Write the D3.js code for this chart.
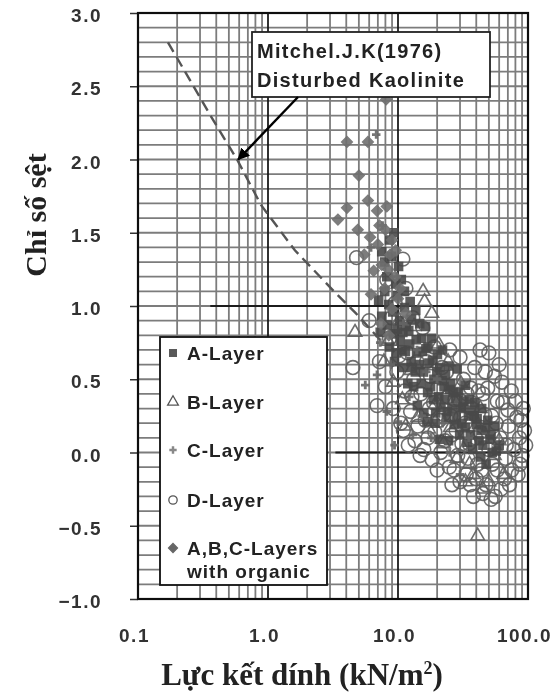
<!DOCTYPE html>
<html>
<head>
<meta charset="utf-8">
<script src="https://d3js.org/d3.v7.min.js"></script>
<style>
  body { margin: 0; background: #fff; }
  .tick text { font-family: "Liberation Sans", Arial, sans-serif; }
</style>
</head>
<body>
<div class="chart"></div>
<script>
// Data: [cohesion kN/m2, consistency index]
var xTicks = [0.1, 1, 10, 100];
var yTicks = [-1.0, -0.5, 0.0, 0.5, 1.0, 1.5, 2.0, 2.5, 3.0];

var mitchellCurve = [[0.17, 2.8], [0.378, 2.27], [0.578, 2.0], [0.883, 1.69], [1.61, 1.38],
  [3.22, 1.10], [4.75, 0.95], [7.27, 0.77]];

var layerA = [[7.1,1.04],[7.5,0.93],[7.9,1.1],[8.3,0.87],[8.5,1.01],[9.1,0.96],[9.2,0.81],[9.9,1.07],
  [10.3,0.9],[10.4,0.76],[11.2,0.99],[11.4,0.69],[12.1,0.83],[12.6,0.62],[12.7,0.91],[13.6,0.55],
  [13.8,0.77],[14.7,0.88],[15.1,0.47],[15.4,0.69],[16.4,0.71],[16.9,0.41],[17.3,0.61],[18.4,0.63],
  [18.7,0.36],[19.9,0.55],[20.1,0.67],[21.4,0.31],[21.8,0.49],[23.2,0.53],[23.5,0.24],[24.9,0.43],
  [25.4,0.47],[27.1,0.19],[27.5,0.37],[29.2,0.41],[29.8,0.12],[31.6,0.31],[32.1,0.35],[34.2,0.07],
  [34.8,0.25],[37.1,0.29],[37.6,0.02],[40.1,0.19],[40.6,0.23],[43.3,-0.03],[43.9,0.15],[47.1,0.17],
  [47.6,-0.08],[51,0.09],[52,0.12],[57,0.01],[8.2,1.2],[8.9,1.34],[9.6,1.15],[7.5,1.37],[10.1,1.27],
  [9.7,0.68],[11,0.58],[11.9,0.47],[13.2,0.45],[14.1,0.32],[15.8,0.27],[16.7,0.21],[19.3,0.2],
  [20.8,0.09],[24.5,0.08],[12.4,1.03],[13.7,0.97],[16.3,0.86],[18.1,0.78],[22,0.7],[24.6,0.59],
  [28.5,0.57],[10.7,0.7],[12.3,0.74],[14.6,0.6],[17.8,0.45],[20.6,0.38],[26,0.3],[31,0.2],[36,0.12],
  [9.4,0.62],[11.6,0.86],[15.2,0.78],[19.5,0.27],[23,0.36],[33,0.46],[39,0.34],[45,0.05],
  [7.3,0.82],[8.6,0.72],[9.9,0.84],[10.9,0.82],[12.9,0.58],[13.9,0.68],[15.7,0.55],[17,0.72],
  [18.9,0.5],[21,0.58],[22.6,0.45],[24,0.28],[26.5,0.41],[28,0.24],[30.5,0.3],[33,0.17],[35.5,0.36],
  [38.5,0.25],[42,0.08],[44,0.3],[49,0.22],[53,0.0],[60,0.05],[55,0.18],[8.6,1.45],[9.3,1.5],
  [7.9,1.3],[10.6,1.18],[11.2,1.1]];

var layerB = [[4.67,0.82],[15.6,1.1],[16,1.03],[41,-0.57],[45,-0.25],[38,-0.15],[50,-0.2],[7.8,0.62],
  [9.2,0.48],[10.8,0.36],[12.6,0.56],[14.2,0.24],[17.2,0.16],[19.4,0.33],[22.4,0.06],[25.3,0.17],
  [28.4,-0.04],[32,0.02],[35.5,-0.08],[55,-0.02],[20.5,0.74],[24.3,0.62],[30.5,0.47],[10.2,0.9],
  [8.4,0.76],[13.3,0.86],[18.2,0.95],[27,0.36],[60,0.08],[11.5,0.18],[43,0.3],[65,-0.15],[33,-0.2]];

var layerC = [[6.9,0.53],[10,0.21],[6.8,2.17],[7.3,0.75],[8.8,0.6],[9.4,0.05],[11,0.88],[12.2,0.38],
  [14,0.7],[15.2,0.25],[18,0.1],[22,0.2],[25,0.0],[30,-0.15],[5.6,0.46],[13,0.12],[20,0.5],[8.2,0.28],
  [16.5,0.55],[35,0.1],[9.8,1.2],[7.6,1.55],[6.2,1.4]];

var layerD = [[4.8,1.33],[10.9,1.32],[4.5,0.58],[6.9,0.32],[42.8,0.7],[70,0.29],[13.5,0.08],[86.7,-0.08],
  [6.0,0.9],[7.2,0.62],[8.0,0.45],[8.6,0.78],[9.2,0.3],[9.8,0.55],[10.5,0.2],[11.2,0.42],[11.8,0.68],
  [12.5,0.28],[13.2,0.5],[14.2,0.18],[15.0,0.4],[15.8,0.02],[16.6,0.62],[17.4,0.3],[18.3,-0.05],
  [19.2,0.14],[20.2,0.44],[21.3,0.0],[22.4,0.26],[23.6,0.55],[24.8,-0.1],[26.0,0.12],[27.4,0.36],
  [28.8,-0.02],[30.3,0.24],[31.9,0.5],[33.5,-0.15],[35.2,0.06],[37.0,0.3],[38.9,0.58],[40.9,-0.08],
  [43.0,0.14],[45.2,0.4],[47.5,-0.22],[50,0.02],[52.5,0.25],[55.2,0.52],[58,-0.12],[61,0.1],[64,0.34],
  [67.3,-0.04],[70.8,0.18],[74.4,0.42],[78,0.02],[82,0.24],[86,0.1],[90,-0.02],[94,0.15],[60,0.6],
  [50,0.68],[47,0.55],[56,-0.3],[45,-0.28],[40,-0.18],[36,-0.22],[66,-0.18],[75,-0.12],[80,0.35],
  [9.5,1.02],[11.5,1.12],[8.2,1.18],[13,0.92],[15.5,0.85],[19,0.72],[25,0.7],[30,0.65],[20,-0.12],
  [17,0.1],[12,0.05],[28,0.15],[34,0.4],
  [8.9,0.92],[10.2,0.66],[11,0.15],[12.8,0.38],[14,0.62],[14.8,-0.02],[16.2,0.22],[17.8,0.52],
  [18.8,0.34],[20.8,0.22],[21.8,0.58],[23,0.08],[24.2,0.38],[25.5,0.25],[27,-0.12],[29.5,0.36],
  [31,0.06],[32.8,0.2],[34.5,-0.04],[36.2,0.44],[39.5,0.1],[41.5,0.42],[44,-0.12],[46.5,0.26],
  [49,0.44],[53,-0.08],[57,0.2],[62,-0.25],[68,0.05],[72,-0.22],[84,-0.15],[92,0.3],[88,0.22],
  [96,0.05],[63,0.48],[38,-0.3],[52,-0.32],[30,-0.2],[26,-0.22],[58,0.35]];

var layerOrganic = [[8.1,2.41],[4.05,2.12],[5.87,2.12],[5.0,1.89],[4.05,1.67],[3.45,1.59],[5.87,1.72],
  [6.9,1.65],[8.2,1.68],[4.9,1.52],[6.1,1.47],[7.0,1.42],[8.7,1.35],[7.5,1.28],[6.5,1.24],[9.5,1.2],
  [5.5,1.35],[10.4,1.12],[7.9,1.12],[6.2,1.08],[9,0.98],[7.4,0.88],[11.5,0.95],[8.5,0.8],
  [8.0,1.52],[9.0,1.45],[9.6,1.38],[7.2,1.55],[8.4,1.25],[10,1.05]];

var legendLabels = ["A-Layer", "B-Layer", "C-Layer", "D-Layer", "A,B,C-Layers"];
var noteLines = ["Mitchel.J.K(1976)", "Disturbed Kaolinite"];

var svgWidth = 555;
var svgHeight = 693;

var margin = { top: 13, right: 27, bottom: 94, left: 138 };
var width = svgWidth - margin.left - margin.right;
var height = svgHeight - margin.top - margin.bottom;

var svg = d3.select(".chart")
  .append("svg")
  .attr("width", svgWidth)
  .attr("height", svgHeight)
  .style("display", "block");

var defs = svg.append("defs");
defs.append("filter").attr("id", "soft")
  .append("feGaussianBlur").attr("stdDeviation", 0.55);

defs.append("marker")
  .attr("id", "arrow")
  .attr("viewBox", "0 0 10 10")
  .attr("refX", 9).attr("refY", 5)
  .attr("markerWidth", 5).attr("markerHeight", 5)
  .attr("orient", "auto")
  .append("path").attr("d", "M0,0L10,5L0,10Z").attr("fill", "#000");

// everything goes in one slightly softened layer (the scan is blurry)
var root = svg.append("g").attr("filter", "url(#soft)");
root.append("rect").attr("width", svgWidth).attr("height", svgHeight).attr("fill", "#fff");

var chartGroup = root.append("g")
  .attr("transform", `translate(${margin.left}, ${margin.top})`);

// Scales
var xScale = d3.scaleLog().domain([0.1, 100]).range([0, width]);
var yScale = d3.scaleLinear().domain([-1, 3]).range([height, 0]);

// Grid lines
var gridColor = "#7c7c7c";
var minorX = [];
[0.1, 1, 10].forEach(d => { for (var k = 2; k <= 9; k++) minorX.push(d * k); });

chartGroup.selectAll(".gx")
  .data(minorX)
  .enter()
  .append("line")
  .attr("x1", d => xScale(d)).attr("x2", d => xScale(d))
  .attr("y1", 0).attr("y2", height)
  .attr("stroke", gridColor)
  .attr("stroke-width", 1.8);

chartGroup.selectAll(".gy")
  .data(d3.range(-9, 30).map(i => i / 10))
  .enter()
  .append("line")
  .attr("x1", 0).attr("x2", width)
  .attr("y1", d => yScale(d)).attr("y2", d => yScale(d))
  .attr("stroke", gridColor)
  .attr("stroke-width", 1.8);

// Heavy reference lines
chartGroup.selectAll(".decade")
  .data([1, 10])
  .enter()
  .append("line")
  .attr("x1", d => xScale(d)).attr("x2", d => xScale(d))
  .attr("y1", 0).attr("y2", height)
  .attr("stroke", "#1a1a1a")
  .attr("stroke-width", 1.8);

chartGroup.append("line")
  .attr("x1", xScale(0.36)).attr("x2", xScale(87))
  .attr("y1", yScale(1)).attr("y2", yScale(1))
  .attr("stroke", "#1a1a1a").attr("stroke-width", 2);

chartGroup.append("line")
  .attr("x1", xScale(3.3)).attr("x2", xScale(87))
  .attr("y1", yScale(0)).attr("y2", yScale(0))
  .attr("stroke", "#1a1a1a").attr("stroke-width", 2);

// Points
function drawPoints(data, type, size, fill, stroke, rot) {
  chartGroup.append("g")
    .selectAll("path")
    .data(data)
    .enter()
    .append("path")
    .attr("transform", d => `translate(${xScale(d[0])}, ${yScale(d[1])}) rotate(${rot || 0})`)
    .attr("d", d3.symbol().type(type).size(size))
    .attr("fill", fill)
    .attr("stroke", stroke)
    .attr("stroke-width", 1.6)
    .attr("opacity", 0.9);
}

drawPoints(layerD, d3.symbolCircle, 150, "none", "#5e5e5e");
drawPoints(layerB, d3.symbolTriangle, 80, "none", "#5e5e5e");
drawPoints(layerA, d3.symbolSquare, 64, "#4a4a4a", "#4a4a4a");
drawPoints(layerC, d3.symbolCross, 40, "#666", "none");
drawPoints(layerOrganic, d3.symbolSquare, 55, "#6f6f6f", "#6f6f6f", 45);

// Mitchell curve
chartGroup.append("path")
  .datum(mitchellCurve)
  .attr("d", d3.line().x(d => xScale(d[0])).y(d => yScale(d[1])))
  .attr("fill", "none")
  .attr("stroke", "#555")
  .attr("stroke-width", 2.4)
  .attr("stroke-dasharray", "11,6");

// Legend
var legend = root.append("g").attr("transform", "translate(160, 337)");
legend.append("rect")
  .attr("width", 167).attr("height", 248)
  .attr("fill", "#fff").attr("stroke", "#111").attr("stroke-width", 1.8);

var legendSymbols = [
  { type: d3.symbolSquare, size: 45, fill: "#5a5a5a", stroke: "#5a5a5a", rot: 0 },
  { type: d3.symbolTriangle, size: 50, fill: "none", stroke: "#555", rot: 0 },
  { type: d3.symbolCross, size: 30, fill: "#888", stroke: "none", rot: 0 },
  { type: d3.symbolCircle, size: 55, fill: "none", stroke: "#555", rot: 0 },
  { type: d3.symbolSquare, size: 40, fill: "#666", stroke: "#666", rot: 45 }
];
var legendY = [16, 65, 113, 163, 211];
var legendFont = "Liberation Sans, Arial, sans-serif";

legendLabels.forEach((lab, i) => {
  legend.append("path")
    .attr("transform", `translate(13, ${legendY[i]}) rotate(${legendSymbols[i].rot})`)
    .attr("d", d3.symbol().type(legendSymbols[i].type).size(legendSymbols[i].size))
    .attr("fill", legendSymbols[i].fill)
    .attr("stroke", legendSymbols[i].stroke)
    .attr("stroke-width", 1.3);
  legend.append("text")
    .attr("x", 27).attr("y", legendY[i] + 7)
    .style("font-family", legendFont)
    .style("font-size", "19px")
    .style("font-weight", "bold")
    .style("letter-spacing", "1px")
    .style("fill", "#222")
    .text(lab);
});
legend.append("text")
  .attr("x", 27).attr("y", 241)
  .style("font-family", legendFont)
  .style("font-size", "19px")
  .style("font-weight", "bold")
  .style("letter-spacing", "1px")
  .style("fill", "#222")
  .text("with organic");

// Annotation
var note = root.append("g");
note.append("rect")
  .attr("x", 252).attr("y", 32).attr("width", 238).attr("height", 65)
  .attr("fill", "#fff").attr("stroke", "#222").attr("stroke-width", 1.8);
note.selectAll("text")
  .data(noteLines)
  .enter()
  .append("text")
  .attr("x", 257)
  .attr("y", (d, i) => 58 + i * 29)
  .style("font-family", legendFont)
  .style("font-size", "20px")
  .style("font-weight", "bold")
  .style("letter-spacing", "1.3px")
  .style("fill", "#222")
  .text(d => d);

note.append("line")
  .attr("x1", 298).attr("y1", 97)
  .attr("x2", margin.left + xScale(0.59)).attr("y2", margin.top + yScale(2.0))
  .attr("stroke", "#000").attr("stroke-width", 2.4)
  .attr("marker-end", "url(#arrow)");

// Axes
var leftAxis = d3.axisLeft(yScale)
  .tickValues(yTicks)
  .tickSize(8)
  .tickPadding(28)
  .tickFormat(d3.format(".1f"));

var bottomAxis = d3.axisBottom(xScale)
  .tickValues(xTicks)
  .tickSize(0)
  .tickPadding(30)
  .tickFormat(d => d < 1 ? "0.1" : d3.format(".1f")(d));

var yAxisG = chartGroup.append("g").call(leftAxis);
yAxisG.select(".domain").remove();
yAxisG.selectAll("line").attr("stroke", "#333").attr("stroke-width", 1.5);
yAxisG.selectAll("text")
  .style("font-size", "19px")
  .style("font-weight", "bold")
  .style("letter-spacing", "1.5px")
  .attr("dy", "0.45em")
  .style("fill", "#333");

var xAxisG = chartGroup.append("g")
  .attr("transform", `translate(0, ${height})`)
  .call(bottomAxis);
xAxisG.select(".domain").remove();
xAxisG.selectAll("text")
  .style("font-size", "19px")
  .style("font-weight", "bold")
  .style("letter-spacing", "1.5px")
  .attr("dx", "-4")
  .style("fill", "#333");

// Plot border
chartGroup.append("rect")
  .attr("width", width).attr("height", height)
  .attr("fill", "none").attr("stroke", "#111").attr("stroke-width", 2.2);

// Axis titles
root.append("text")
  .attr("transform", "translate(46, 215) rotate(-90)")
  .style("text-anchor", "middle")
  .style("font-family", "Liberation Serif, Times New Roman, serif")
  .style("font-size", "30px")
  .style("font-weight", "bold")
  .style("fill", "#222")
  .text("Chỉ số sệt");

root.append("text")
  .attr("x", 302).attr("y", 685)
  .style("text-anchor", "middle")
  .style("font-family", "Liberation Serif, Times New Roman, serif")
  .style("font-size", "31px")
  .style("font-weight", "bold")
  .style("fill", "#222")
  .html("Lực kết dính (kN/m<tspan dy='-11' font-size='18px'>2</tspan><tspan dy='11'>)</tspan>");
</script>
</body>
</html>
